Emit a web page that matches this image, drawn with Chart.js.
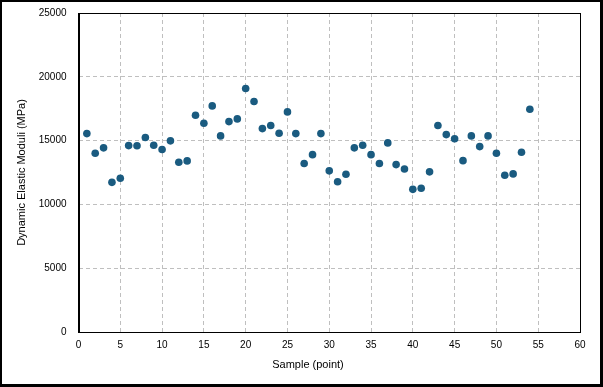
<!DOCTYPE html>
<html>
<head>
<meta charset="utf-8">
<script src="https://cdn.jsdelivr.net/npm/chart.js@4.4.1/dist/chart.umd.min.js"></script>
<style>
    body { margin: 0; background: #ffffff; }
    #wrap { position: relative; width: 603px; height: 387px; }
</style>
</head>
<body>
<div id="wrap"><canvas id="grafica"></canvas></div>
<script>
//Datos
const muestras = [1, 2, 3, 4, 5, 6, 7, 8, 9, 10,
    11, 12, 13, 14, 15, 16, 17, 18, 19, 20,
    21, 22, 23, 24, 25, 26, 27, 28, 29, 30,
    31, 32, 33, 34, 35, 36, 37, 38, 39, 40,
    41, 42, 43, 44, 45, 46, 47, 48, 49, 50,
    51, 52, 53, 54];
const modulos = [15550, 14010, 14430, 11730, 12050, 14610, 14600, 15240, 14630, 14300,
    14980, 13300, 13410, 16990, 16360, 17720, 15370, 16490, 16700, 19080,
    18060, 15940, 16180, 15580, 17250, 15550, 13200, 13900, 15550, 12630,
    11770, 12360, 14430, 14630, 13900, 13200, 14820, 13120, 12780, 11180,
    11260, 12550, 16180, 15470, 15140, 13430, 15370, 14530, 15370, 14010,
    12280, 12390, 14090, 17460];
const ticksX = [0, 5, 10, 15, 20, 25, 30, 35, 40, 45, 50, 55, 60];
const ticksY = [0, 5000, 10000, 15000, 20000, 25000];

const tituloX = 'Sample (point)';
const tituloY = 'Dynamic Elastic Moduli (MPa)';

const fuente = '"Liberation Sans", Arial, sans-serif';

//Marco exterior, borde del área y títulos de ejes
const marcoPlugin = {
    id: 'marco',
    afterDraw(chart) {
        const ctx = chart.ctx;
        const a = chart.chartArea;
        ctx.save();
        ctx.strokeStyle = '#000000';
        ctx.lineWidth = 1;
        ctx.strokeRect(Math.round(a.left) + 0.5, Math.round(a.top) + 0.5,
            Math.round(a.right - a.left) - 1, Math.round(a.bottom - a.top));
        ctx.fillStyle = '#000000';
        ctx.fillRect(0, 0, chart.width, 2);
        ctx.fillRect(0, 0, 2, chart.height);
        ctx.fillRect(chart.width - 3, 0, 3, chart.height);
        ctx.fillRect(0, chart.height - 3, chart.width, 3);

        ctx.font = '11px ' + fuente;
        ctx.fillStyle = '#000000';
        ctx.textAlign = 'center';
        ctx.textBaseline = 'middle';
        ctx.fillText(tituloX, 308, 365);
        ctx.translate(22, (a.top + a.bottom) / 2);
        ctx.rotate(-Math.PI / 2);
        ctx.fillText(tituloY, 0, 0);
        ctx.restore();
    }
};

function createModulosChart() {
    const ctx = document.getElementById('grafica').getContext('2d');
    new Chart(ctx, {
        type: 'scatter',
        data: {
            datasets: [{
                label: 'Moduli',
                data: muestras.map((m, i) => ({ x: m, y: modulos[i] })),
                backgroundColor: '#1a5b80',
                borderColor: '#1a5b80',
                borderWidth: 0,
                pointRadius: 3.8,
                pointHoverRadius: 3.8
            }]
        },
        options: {
            responsive: true,
            maintainAspectRatio: false,
            animation: false,
            devicePixelRatio: 1,
            layout: { padding: { left: 20, right: 23, top: 13, bottom: 0 } },
            plugins: {
                legend: { display: false },
                tooltip: { enabled: false }
            },
            scales: {
                x: {
                    type: 'linear',
                    min: ticksX[0],
                    max: ticksX[ticksX.length - 1],
                    afterBuildTicks: scale => { scale.ticks = ticksX.map(v => ({ value: v })); },
                    afterFit: scale => { scale.height = 55; scale.paddingLeft = 0; scale.paddingRight = 0; },
                    grid: { color: '#bfbfbf', lineWidth: 1, drawTicks: false },
                    border: { display: true, color: '#000000', width: 1, dash: [4, 3] },
                    ticks: { padding: 7, color: '#000000', font: { family: fuente, size: 10 }, maxRotation: 0 }
                },
                y: {
                    min: ticksY[0],
                    max: ticksY[ticksY.length - 1],
                    afterBuildTicks: scale => { scale.ticks = ticksY.map(v => ({ value: v })); },
                    afterFit: scale => { scale.width = 58.5; scale.paddingTop = 0; scale.paddingBottom = 0; },
                    grid: { color: '#bfbfbf', lineWidth: 1, drawTicks: false },
                    border: { display: true, color: '#000000', width: 1, dash: [4, 3] },
                    ticks: { padding: 12, color: '#000000', font: { family: fuente, size: 10 },
                        callback: v => String(v) }
                }
            }
        },
        plugins: [marcoPlugin]
    });
}

document.addEventListener('DOMContentLoaded', createModulosChart);
</script>
</body>
</html>
